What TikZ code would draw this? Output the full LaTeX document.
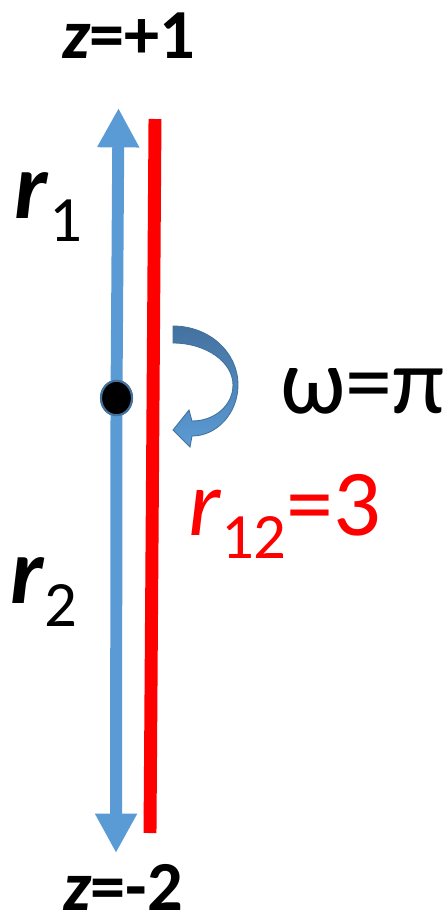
\documentclass[tikz,border=0pt]{standalone}
\usepackage{fontspec}
\setmainfont{Carlito}
\usetikzlibrary{arrows.meta,shapes.geometric}
\definecolor{axisblue}{HTML}{5B9BD5}
\definecolor{rimblue}{HTML}{41719C}
\definecolor{spintop}{HTML}{44729F}
\definecolor{spinbot}{HTML}{5B9BD5}
\newcommand{\lowsub}[1]{\raisebox{-17pt}{\fontsize{46}{50}\selectfont #1}}

\begin{document}
\begin{tikzpicture}[
  x=0.025cm, y=-0.025cm,
  every node/.style={inner sep=0pt, outer sep=0pt},
  endlabel/.style={anchor=base west, font=\fontsize{50}{60}\selectfont\bfseries},
  biglabel/.style={anchor=base west, font=\fontsize{67}{80}\selectfont},
  axis/.style={axisblue, line width=8.5pt, -{Triangle[width=28pt, length=28pt]}},
  separation/.style={red, line width=9.2pt},
  centre/.style={ellipse, fill=black, draw=rimblue, line width=1.5pt,
                 minimum width=22pt, minimum height=24.5pt},
  spin/.style={top color=spintop, bottom color=spinbot, draw=rimblue, line width=0.6pt},
]
\useasboundingbox (0,0) rectangle (447,915);

% ---- axis ends and the point between them ----
\coordinate (ztop) at (118.5,108);
\coordinate (zbot) at (116,853);
\node[centre] (mid) at (116.5,398) {};

% ---- red line ----
\coordinate (rtop) at (155,119);
\coordinate (rbot) at (150,833);
\draw[separation] (rtop) -- (rbot);

% ---- blue axis, both ways from the point ----
\draw[axis] (mid) -- (ztop);
\draw[axis] (mid) -- (zbot);
\node[centre] at (mid) {};

% ---- curved arrow beside the axis ----
\path[spin] (173,326) .. controls (209,326) and (238,352) .. (238,385)
  .. controls (238,413) and (217,436) .. (192,436)
  -- (190,447) -- (173,430) -- (189,410) -- (192,421)
  .. controls (215,421) and (233,405) .. (233,385)
  .. controls (233,362) and (206,343) .. (173,343) -- cycle;

% ---- labels ----
\node[endlabel] (lztop) at (62,58) {\itshape z\upshape =+1};
\node[endlabel] (lzbot) at (63,910) {\itshape z\upshape =-2};
\node[biglabel] (lr1) at (15,218) {\textbf{\textit{r}}\lowsub{1}};
\node[biglabel] (lr2) at (10,603) {\textbf{\textit{r}}\lowsub{2}};
\node[biglabel] (lomega) at (280,413) {ω=π};
\node[biglabel, text=red] (lr12) at (188,535) {\textit{r}\lowsub{12}=3};
\end{tikzpicture}
\end{document}
